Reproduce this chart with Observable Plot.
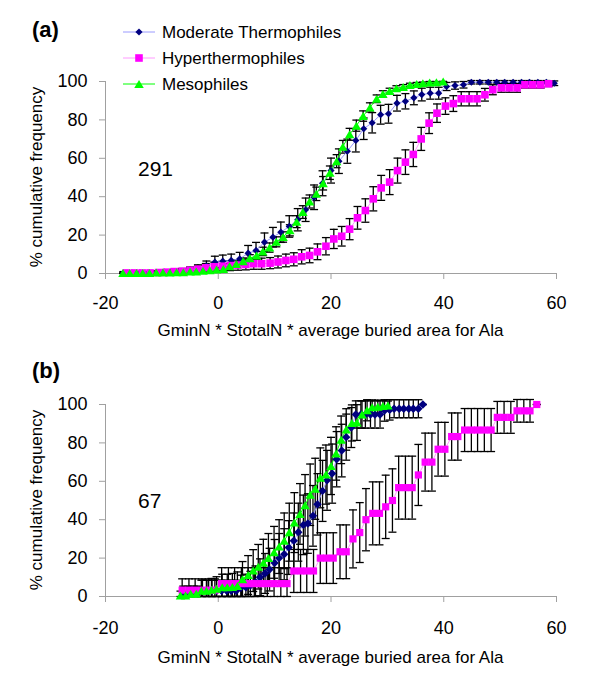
<!DOCTYPE html>
<html><head><meta charset="utf-8">
<script src="https://cdn.jsdelivr.net/npm/d3@7"></script>
<script src="https://cdn.jsdelivr.net/npm/@observablehq/plot@0.6"></script>
<style>
body{margin:0;background:#fff;}
#wrap{position:relative;width:600px;height:691px;background:#fff;}
.panel{position:absolute;left:0;}
</style></head><body><div id="wrap"></div>
<script>
const xTicks = [-20, 0, 20, 40, 60];
const yTicks = [0, 20, 40, 60, 80, 100];
const seriesNames = ["Moderate Thermophiles", "Hyperthermophiles", "Mesophiles"];
const xTitle = "GminN * StotalN * average buried area for Ala";
const yTitle = "% cumulative frequency";

// ---- panel (a) ----
const aModX = [-16.8,-15.3,-13.9,-12.4,-10.9,-9.5,-8.0,-6.5,-5.0,-3.6,-2.1,-0.6,0.8,2.3,3.8,5.3,6.7,8.2,9.7,11.1,12.6,14.1,15.5,17.0,18.5,20.0,21.4,22.9,24.4,25.8,27.3,28.8,30.2,31.7,33.2,34.7,36.1,37.6,39.1,40.5,42.0,43.5,44.9,46.4,47.9,49.4,50.8,52.3,53.8,55.2,56.7,58.2,59.6];
const aModY = [0.3,0.3,0.3,0.3,0.5,0.7,0.7,1.0,1.4,2.5,4.0,5.9,6.4,6.8,7.6,10.6,12,16.3,18.9,21.5,24.5,28,33.2,39.7,47,53.6,58.5,63.7,69.3,75.4,78.5,82.7,83.2,88.7,89.7,91.5,93.2,93.9,93.9,97.4,97.9,98.3,99.6,99.6,99.6,99.6,99.6,99.6,99.6,99.6,99.6,99.6,99.1];
const aModE = [0.7,0.7,0.7,0.7,0.9,1.1,1.1,1.3,1.5,2.0,2.5,3.1,3.2,3.3,3.4,4.0,4.2,4.8,5.1,5.3,5.6,5.8,6.1,6.4,6.5,6.5,6.4,6.3,6.0,5.6,5.3,4.9,4.9,4.1,4.0,3.6,3.3,3.1,3.1,2.1,1.9,1.7,0.9,0.9,0.9,0.9,0.9,0.9,0.9,0.9,0.9,0.9,1.2];

const aHypX = [-16.3,-14.9,-13.5,-12.1,-10.6,-9.2,-7.8,-6.4,-5.0,-3.6,-2.2,-0.7,0.7,2.1,3.5,4.9,6.3,7.7,9.2,10.6,12.0,13.4,14.8,16.2,17.6,19.1,20.5,21.9,23.3,24.7,26.1,27.5,28.9,30.4,31.8,33.2,34.6,36.0,37.4,38.8,40.3,41.7,43.1,44.5,45.9,47.3,48.7,50.2,51.6,53.0,54.4,55.8,57.2,58.6];
const aHypY = [0.3,0.3,0.3,0.3,0.5,0.7,1.0,1.2,1.7,2.3,3.0,3.5,3.8,4.1,4.4,4.7,5.1,5.1,5.4,6.0,6.8,7.4,8.7,9.4,11.3,14.2,18,19.4,23.1,29,32.8,38.9,44.6,47.6,53.6,58,62,70.1,78.3,83.5,87.2,88.5,91,91,91,93.1,95.7,96.7,96.7,96.7,98.3,98.3,98.3,98.8];
const aHypE = [0.7,0.7,0.7,0.7,0.9,1.1,1.3,1.4,1.7,1.9,2.2,2.4,2.5,2.6,2.7,2.8,2.9,2.9,2.9,3.1,3.3,3.4,3.7,3.8,4.1,4.5,5.0,5.1,5.5,5.9,6.1,6.3,6.5,6.5,6.5,6.4,6.3,6.0,5.4,4.8,4.3,4.1,3.7,3.7,3.7,3.3,2.6,2.3,2.3,2.3,1.7,1.7,1.7,1.4];

const aMesoX = [-16.9,-15.7,-14.5,-13.4,-12.2,-11.0,-9.8,-8.6,-7.4,-6.2,-5.0,-3.9,-2.7,-1.5,-0.3,0.9,2.0,3.2,4.4,5.6,6.8,7.9,9.1,10.3,11.5,12.7,13.9,15.0,16.2,17.4,18.6,19.8,21.0,22.1,23.3,24.5,25.7,26.9,28.1,29.2,30.4,31.6,32.8,34.0,35.2,36.3,37.5,38.7,39.9];
const aMesoY = [0.3,0.3,0.3,0.3,0.3,0.5,0.5,0.5,0.7,0.7,1.0,1.0,1.4,1.7,2.1,2.4,3.8,5.0,6.4,7.9,9.4,11.5,13.5,16.5,19.0,22.5,27,32,37.5,41.5,47,52.5,58.5,66,72.5,77,82,86.5,91,93.5,95,96.5,97.2,98.2,98.7,99.1,99.5,99.6,100];
const aMesoE = [0.4,0.4,0.4,0.4,0.4,0.5,0.5,0.5,0.6,0.6,0.7,0.7,0.8,0.9,1.0,1.1,1.3,1.5,1.7,1.9,2.0,2.2,2.4,2.6,2.7,2.9,3.1,3.3,3.4,3.5,3.5,3.5,3.4,3.3,3.1,2.9,2.7,2.4,2.0,1.7,1.5,1.3,1.2,0.9,0.8,0.6,0.5,0.4,0];

// ---- panel (b) ----
const bModX = [-6.2,-5.4,-4.5,-3.7,-2.8,-2.0,-1.1,-0.3,0.6,1.5,2.3,3.2,4.0,4.9,5.7,6.6,7.4,8.3,9.1,10.0,10.8,11.7,12.5,13.4,14.2,15.1,15.9,16.8,17.6,18.5,19.3,20.2,21.0,21.9,22.7,23.6,24.4,25.3,26.1,27.0,27.8,28.7,29.5,30.4,31.2,32.1,32.9,33.8,34.6,35.5,36.3];
const bModY = [1.5,1.5,1.5,1.5,3.0,3.0,3.0,3.0,3.0,3.0,3.0,3.0,4.5,4.8,5.7,7.5,10,12,14,17.5,20,22,25.5,29,33.5,37.3,38,42,48,55,60.5,64,71.5,76,83,88,94.8,94.8,94.8,94.8,94.8,94.8,96.9,97.2,97.8,97.8,97.8,97.8,97.8,97.8,100];
const bModE = [3.9,3.9,3.9,3.9,5.5,5.5,5.5,5.5,5.5,5.5,5.5,5.5,6.6,6.8,7.4,8.4,9.6,10.4,11.1,12.2,12.8,13.3,14.0,14.5,15.1,15.5,15.5,15.8,16,15.9,15.6,15.4,14.4,13.7,12.0,10.4,7.1,7.1,7.1,7.1,7.1,7.1,5.6,5.3,4.7,4.7,4.7,4.7,4.7,4.7,0];

const bHypX = [-6.4,-5.2,-4.1,-2.9,-1.7,-0.6,0.6,1.8,2.9,4.1,5.3,6.4,7.6,8.7,9.9,11.1,12.2,13.4,14.6,15.7,16.9,18.1,19.2,20.4,21.6,22.7,23.9,25.1,26.2,27.4,28.6,29.7,30.9,32.0,33.2,34.4,35.5,36.7,37.9,39.0,40.2,41.4,42.5,43.7,44.9,46.0,47.2,48.4,49.5,50.7,51.9,53.0,54.2,55.3,56.5];
const bHypY = [3.3,3.3,3.3,3.3,3.3,3.3,6.7,6.7,6.7,6.7,6.7,6.7,6.7,6.7,6.7,6.7,6.7,13.3,13.3,13.3,13.3,20,20,20,23.3,23.3,30,33.3,40,43.3,43.3,46.7,50,56.7,56.7,56.7,63.3,70,70,76.7,76.7,83.3,83.3,86.7,86.7,86.7,86.7,86.7,93.3,93.3,93.3,96.7,96.7,96.7,100];
const bHypE = [5.9,5.9,5.9,5.9,5.9,5.9,8.3,8.3,8.3,8.3,8.3,8.3,8.3,8.3,8.3,8.3,8.3,11.2,11.2,11.2,11.2,13.2,13.2,13.2,14.0,14.0,15.1,15.6,16.2,16.4,16.4,16.5,16.5,16.4,16.4,16.4,15.9,15.1,15.1,14.0,14.0,12.3,12.3,11.2,11.2,11.2,11.2,11.2,8.3,8.3,8.3,5.9,5.9,5.9,0];

const bMesoX = [-6.7,-5.8,-4.9,-3.9,-3.0,-2.1,-1.2,-0.3,0.7,1.6,2.5,3.4,4.3,5.3,6.2,7.1,8.0,8.9,9.9,10.8,11.7,12.6,13.5,14.5,15.4,16.3,17.2,18.1,19.1,20.0,20.9,21.8,22.7,23.7,24.6,25.5,26.4,27.3,28.3,29.2,30.1];
const bMesoY = [0.5,0.5,1.4,1.4,3.0,3.0,3.5,4.0,4.8,4.8,5.0,5.5,9.0,11.2,13.5,15.5,17.6,20,23,26,29,33.5,38.5,43,47.5,53,56.1,61.8,63.5,68,74.5,81.6,87,90.4,90.6,94.8,97,98.6,98.8,99.2,99.5];
const bMesoE = [2.3,2.3,3.8,3.8,5.5,5.5,5.9,6.3,6.8,6.8,7.0,7.3,9.2,10.1,10.9,11.6,12.2,12.8,13.5,14.0,14.5,15.1,15.6,15.8,16,16,15.9,15.6,15.4,14.9,13.9,12.4,10.8,9.4,9.3,7.1,5.5,3.8,3.5,2.8,2.3];

const FONT = '"Liberation Sans", Arial, sans-serif';
const AXIS_GRAY = "#a0a0a0";
const styles = [
  {marker: "#000080", line: "#9a9aff"},
  {marker: "#ff00ff", line: "#ff9aff"},
  {marker: "#00ff00", line: "#00ff00"}
];

function makeDiamond(h) { return {draw(c) { c.moveTo(0, -h); c.lineTo(h, 0); c.lineTo(0, h); c.lineTo(-h, 0); c.closePath(); }}; }
function makeSquare(s) { return {draw(c) { c.moveTo(-s, -s); c.lineTo(s, -s); c.lineTo(s, s); c.lineTo(-s, s); c.closePath(); }}; }
function makeTriangle(w, h) { return {draw(c) { c.moveTo(0, -h / 2); c.lineTo(w / 2, h / 2); c.lineTo(-w / 2, h / 2); c.closePath(); }}; }
const capSym = {draw(c) { c.moveTo(-4, 0); c.lineTo(4, 0); }};

function rowsOf(name, X, Y, E) { return X.map((x, i) => ({series: name, x, y: Y[i], e: E[i]})); }

function addText(sel, attrs, txt) {
  const t = sel.append("text").attr("font-family", FONT).attr("fill", "black").attr("text-anchor", "start");
  Object.entries(attrs).forEach(([k, v]) => t.attr(k, v));
  t.text(txt);
  return t;
}

function makePanel(cfg) {
  const {data, symbols, tag, tagY, count, countY, xTickPad, xTitleY, legend} = cfg;
  const marks = [
    Plot.ruleX([-20], {stroke: AXIS_GRAY}),
    Plot.ruleY([0], {stroke: AXIS_GRAY}),
    Plot.axisX({ticks: xTicks, tickSize: 6, stroke: AXIS_GRAY, tickFormat: () => "", label: null}),
    Plot.axisX({ticks: xTicks, tickSize: 0, tickPadding: xTickPad, fill: "black", tickFormat: d => String(d), label: null}),
    Plot.axisY({ticks: yTicks, tickSize: 6, stroke: AXIS_GRAY, tickFormat: () => "", label: null}),
    Plot.axisY({ticks: yTicks, tickSize: 0, tickPadding: 18, fill: "black", tickFormat: d => String(d), label: null})
  ];
  data.forEach(s => {
    marks.push(Plot.ruleX(s, {x: "x", y1: d => Math.max(0, d.y - d.e), y2: d => d.y + d.e, stroke: "black", strokeWidth: 1.3}));
    marks.push(Plot.dot(s, {x: "x", y: d => d.y + d.e, symbol: capSym, r: 1, stroke: "black", strokeWidth: 1.3, fill: "none"}));
    marks.push(Plot.dot(s, {x: "x", y: d => Math.max(0, d.y - d.e), symbol: capSym, r: 1, stroke: "black", strokeWidth: 1.3, fill: "none"}));
  });
  data.forEach((s, i) => {
    marks.push(Plot.line(s, {x: "x", y: "y", stroke: styles[i].line, strokeWidth: 1}));
  });
  data.forEach((s, i) => {
    marks.push(Plot.dot(s, {x: "x", y: "y", symbol: symbols[i], r: 1, fill: styles[i].marker, stroke: "none"}));
  });
  const svgNode = Plot.plot({
    width: 600, height: 345,
    marginLeft: 105, marginRight: 44, marginTop: 81, marginBottom: 72,
    x: {domain: [-20, 60], label: null},
    y: {domain: [0, 100], label: null},
    style: {fontFamily: FONT, fontSize: "18px", color: "black", background: "none", overflow: "visible"},
    marks
  });
  const svg = d3.select(svgNode);
  addText(svg, {x: 32, y: tagY, dy: "0.35em", "font-size": 22, "font-weight": "bold"}, tag);
  addText(svg, {x: 138, y: countY, dy: "0.35em", "font-size": 21}, count);
  addText(svg, {x: 330.5, y: xTitleY, dy: "0.35em", "font-size": 17, "text-anchor": "middle"}, xTitle);
  addText(svg, {transform: "translate(36,177) rotate(-90)", dy: "0.35em", "font-size": 17, "text-anchor": "middle"}, yTitle);
  if (legend) {
    const ly = [32, 58, 84];
    seriesNames.forEach((name, i) => {
      const g = svg.append("g").attr("transform", `translate(0,${ly[i]})`);
      g.append("line").attr("x1", 123).attr("x2", 155).attr("stroke", styles[i].line).attr("stroke-width", 1);
      g.append("path").attr("transform", "translate(139,0)").attr("d", d3.symbol().type(symbols[i])()).attr("fill", styles[i].marker);
      addText(g, {x: 162, dy: "0.35em", "font-size": 17}, name);
    });
  }
  return svgNode;
}

const wrap = document.getElementById("wrap");
const pA = makePanel({
  data: [rowsOf(seriesNames[0], aModX, aModY, aModE), rowsOf(seriesNames[1], aHypX, aHypY, aHypE), rowsOf(seriesNames[2], aMesoX, aMesoY, aMesoE)],
  symbols: [makeDiamond(3.6), makeSquare(3.8), makeTriangle(9.5, 8)],
  tag: "(a)", tagY: 29, count: "291", countY: 169, xTickPad: 23, xTitleY: 330, legend: true
});
pA.classList.add("panel"); pA.style.top = "0px";
wrap.appendChild(pA);
const pB = makePanel({
  data: [rowsOf(seriesNames[0], bModX, bModY, bModE), rowsOf(seriesNames[1], bHypX, bHypY, bHypE), rowsOf(seriesNames[2], bMesoX, bMesoY, bMesoE)],
  symbols: [makeDiamond(4.2), makeSquare(3.6), makeTriangle(9.5, 8)],
  tag: "(b)", tagY: 47, count: "67", countY: 178, xTickPad: 25, xTitleY: 334, legend: false
});
pB.classList.add("panel"); pB.style.top = "323px";
wrap.appendChild(pB);
</script>
</body></html>
